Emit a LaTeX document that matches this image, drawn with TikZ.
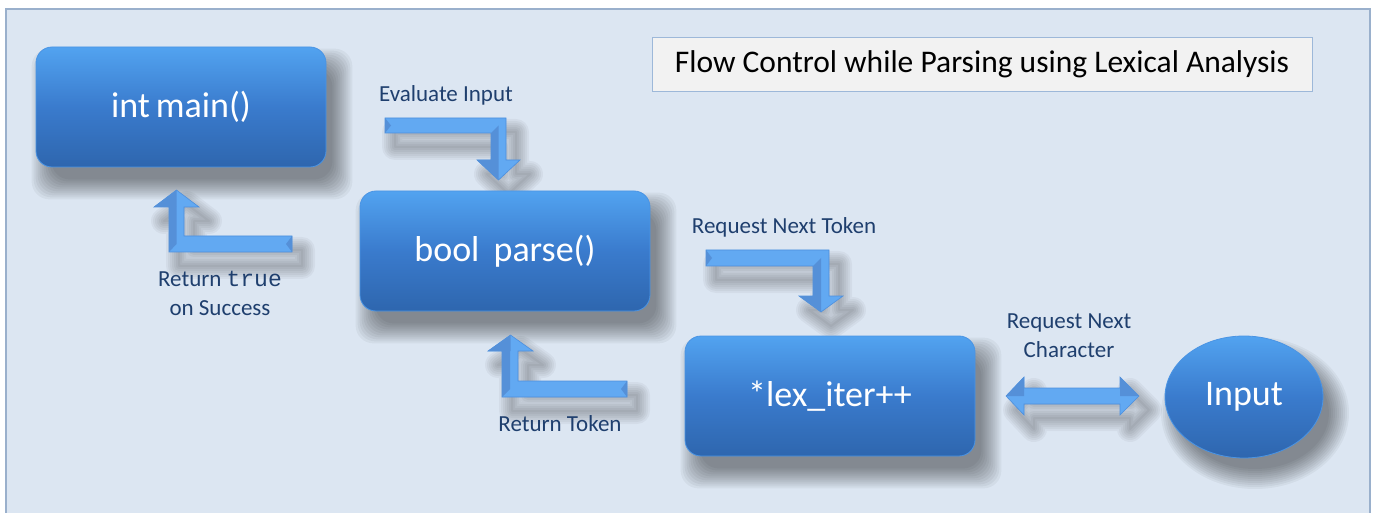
\documentclass[tikz,border=0pt]{standalone}
\usepackage{fontspec}
\setmainfont{Carlito}
\newfontfamily\codefont{Liberation Mono}
\usetikzlibrary{shapes.geometric,calc}
\definecolor{panelbg}{HTML}{DCE6F2}
\definecolor{panelrim}{HTML}{9AB0CC}
\definecolor{boxtop}{HTML}{52A3F0}
\definecolor{boxmid}{HTML}{3A7BCD}
\definecolor{boxbot}{HTML}{2E66AE}
\definecolor{boxrim}{HTML}{4A94E4}
\definecolor{arrlight}{HTML}{62A9F2}
\definecolor{arrdark}{HTML}{5590D8}
\definecolor{arredge}{HTML}{4C8FDE}
\definecolor{labelc}{HTML}{1F3F6E}
\definecolor{titlebg}{HTML}{F2F2F2}
\definecolor{titlerim}{HTML}{9DB8D9}
\pgfdeclarelayer{bgpanel}
\pgfdeclarelayer{bgshadow}
\pgfsetlayers{bgpanel,bgshadow,main}
\newcommand\rectshadow[1]{%
  \foreach \e in {0,2,...,20}{%
    \fill[black, opacity=0.042, rounded corners=18pt]
      ($(#1.north west)+(16-\e,22-\e)$) rectangle ($(#1.south east)+(6+\e,12+\e)$);}}
\newcommand\ovalshadow[1]{%
  \foreach \e in {0,2,...,20}{%
    \fill[black, opacity=0.042]
      ($(#1.center)+(11,16)$) ellipse [x radius={74+\e}, y radius={56+\e}];}}
\newcommand\bentarrow[1]{%
  \begin{pgfonlayer}{bgshadow}
  \foreach \w in {26,22,...,2}{%
    \draw[black, opacity=0.04, line width=\w pt, line join=round, shift={(10,14)}] #1;}
  \end{pgfonlayer}
  \draw[arrowshape] #1;}
\begin{document}
\begin{tikzpicture}[x=1pt,y=-1pt,
  flowbox/.style={rectangle, rounded corners=16pt, minimum width=290pt, minimum height=120pt,
    top color=boxtop, bottom color=boxbot, middle color=boxmid, draw=boxrim, line width=0.8pt,
    text=white, font=\fontsize{36}{40}\selectfont},
  flowoval/.style={ellipse, minimum width=158pt, minimum height=122pt, inner sep=0pt,
    top color=boxtop, bottom color=boxbot, middle color=boxmid, draw=boxrim, line width=0.8pt,
    text=white, font=\fontsize{36}{40}\selectfont},
  arrowshape/.style={fill=arrlight, draw=arredge, line width=0.6pt, line join=miter},
  bevel/.style={fill=arrdark, draw=none},
  lbl/.style={text=labelc, font=\fontsize{23}{29}\selectfont, align=center, inner sep=0pt},
  titlebox/.style={rectangle, fill=titlebg, draw=titlerim, line width=0.8pt, minimum width=660pt, minimum height=54pt,
    font=\fontsize{31.5}{34}\selectfont, text=black}
]
\useasboundingbox (0,0) rectangle (1374,513);
\begin{pgfonlayer}{bgpanel}
\fill[white] (0,0) rectangle (1374,513);
\fill[panelbg] (6,9) rectangle (1370,520);
\draw[panelrim, line width=1.5pt] (6,520) -- (6,9) -- (1370,9) -- (1370,520);
\end{pgfonlayer}

% title
\node[titlebox] (title) at (982,64) {Flow Control while Parsing using Lexical Analysis};

% main nodes
\node[flowbox] (main) at (181,107) {int\,main()};
\node[flowbox] (parse) at (505,251) {bool\, parse()};
\node[flowbox] (lex) at (830,396) {*lex\_iter++};
\node[flowoval] (input) at (1244,397) {Input};

\begin{pgfonlayer}{bgshadow}
\rectshadow{main}
\rectshadow{parse}
\rectshadow{lex}
\ovalshadow{input}
\end{pgfonlayer}

% arrow: Evaluate Input (main -> parse)
\bentarrow{(385,118) -- (506,118) -- (506,160) -- (520,160) -- (498.5,180) -- (477,160) -- (491,160) -- (491,133) -- (385,133) -- cycle}
\fill[bevel] (491,133) -- (498.5,125.5) -- (498.5,160) -- (491,160) -- cycle;
\fill[bevel] (477,160) -- (498.5,160) -- (498.5,180) -- cycle;
\fill[bevel] (385,118) -- (391,125.5) -- (385,133) -- cycle;

% arrow: Return true on Success (parse -> main)
\bentarrow{(176.5,190) -- (199,207) -- (184,207) -- (184,236) -- (292,236) -- (292,252) -- (169,252) -- (169,207) -- (154,207) -- cycle}
\fill[bevel] (169,207) -- (176.5,207) -- (176.5,244) -- (169,252) -- cycle;
\fill[bevel] (154,207) -- (176.5,190) -- (176.5,207) -- cycle;
\fill[bevel] (292,236) -- (286,244) -- (292,252) -- cycle;

% arrow: Request Next Token (parse -> lex)
\bentarrow{(706,250) -- (829,250) -- (829,296) -- (843,296) -- (821,312) -- (799,296) -- (813,296) -- (813,266) -- (706,266) -- cycle}
\fill[bevel] (813,266) -- (821,258) -- (821,296) -- (813,296) -- cycle;
\fill[bevel] (799,296) -- (821,296) -- (821,312) -- cycle;
\fill[bevel] (706,250) -- (712,258) -- (706,266) -- cycle;

% arrow: Return Token (lex -> parse)
\bentarrow{(510.5,335) -- (533,351) -- (518,351) -- (518,381) -- (627,381) -- (627,397) -- (502,397) -- (502,351) -- (488,351) -- cycle}
\fill[bevel] (502,351) -- (510,351) -- (510,389) -- (502,397) -- cycle;
\fill[bevel] (488,351) -- (510.5,335) -- (510.5,351) -- cycle;
\fill[bevel] (627,381) -- (621,389) -- (627,397) -- cycle;

% double arrow: lex <-> input
\bentarrow{(1006,396) -- (1024,377) -- (1024,388) -- (1120,388) -- (1120,377) -- (1139,396) -- (1120,415) -- (1120,404) -- (1024,404) -- (1024,415) -- cycle}
\fill[bevel] (1006,396) -- (1024,377) -- (1024,396) -- cycle;
\fill[bevel] (1120,396) -- (1120,377) -- (1139,396) -- cycle;

% labels
\node[lbl] (l1) at (446,95) {Evaluate Input};
\node[lbl] (l2) at (220,293) {Return {\codefont true}\\on Success};
\node[lbl] (l3) at (784,227) {Request Next Token};
\node[lbl] (l4) at (1069,336) {Request Next\\Character};
\node[lbl] (l5) at (560,424) {Return Token};
\end{tikzpicture}
\end{document}
